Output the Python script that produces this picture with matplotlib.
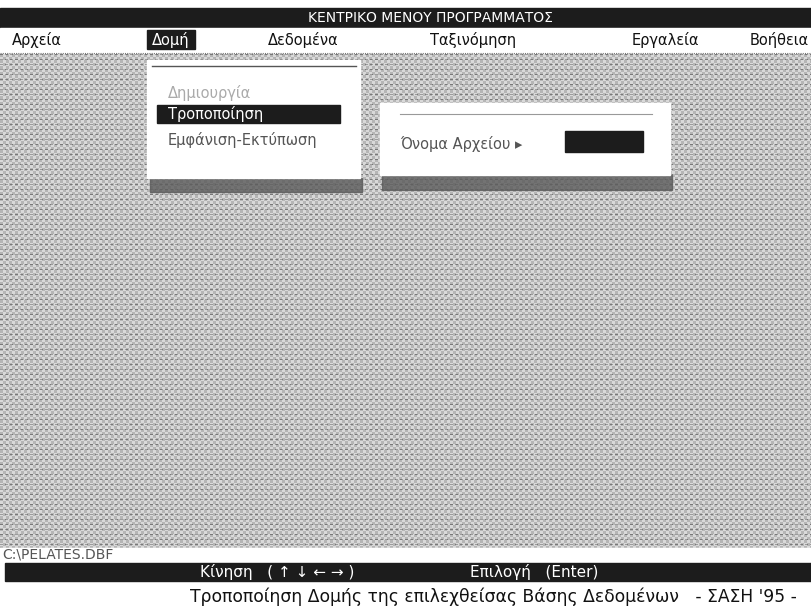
import numpy as np
import matplotlib.pyplot as plt
from matplotlib.patches import Rectangle

# κείμενα της οθόνης
title = "ΚΕΝΤΡΙΚΟ ΜΕΝΟΥ ΠΡΟΓΡΑΜΜΑΤΟΣ"
menu_labels = ["Αρχεία", "Δομή", "Δεδομένα", "Ταξινόμηση", "Εργαλεία", "Βοήθεια"]
submenu_labels = ["Δημιουργία", "Τροποποίηση", "Εμφάνιση-Εκτύπωση"]
prompt_label = "Όνομα Αρχείου ▸"
path_label = "C:\\PELATES.DBF"
keys_labels = ["Κίνηση   ( ↑ ↓ ← → )", "Επιλογή   (Enter)"]
status_label = "Τροποποίηση Δομής της επιλεχθείσας Βάσης Δεδομένων   - ΣΑΣΗ '95 -"

# θέσεις (pixels)
menu_x = [12, 152, 268, 430, 632, 750]
sub_y = [93, 114, 140]
keys_x = [200, 470]

W, H = 811, 613
font = ["DejaVu Sans"]

fig = plt.figure(figsize=(W / 100, H / 100), dpi=100)
ax = fig.add_axes([0, 0, 1, 1])
ax.set_xlim(0, W)
ax.set_ylim(H, 0)
ax.axis("off")
fig.patch.set_facecolor("white")

# γκρι φόντο με υφή
yy, xx = np.mgrid[0:494, 0:811]
tex = (0.71 + 0.14 * ((xx // 3 + yy // 3) % 2)
       - 0.24 * ((yy % 5 == 0) & (xx % 5 < 3)))
ax.imshow(tex, cmap="gray", vmin=0, vmax=1, extent=(0, W, 548, 54),
          interpolation="antialiased", zorder=0)

# γραμμή τίτλου
ax.add_patch(Rectangle((0, 8), W, 20, color="#1c1c1c", zorder=1))
ax.text(430, 18.5, title, color="white", ha="center", va="center",
        fontsize=10, family=font, zorder=2)

# μπάρα μενού
ax.add_patch(Rectangle((0, 28), W, 24, color="white", zorder=1))
ax.add_patch(Rectangle((147, 30), 48, 19, color="#1c1c1c", zorder=2))
for i, (lab, x) in enumerate(zip(menu_labels, menu_x)):
    ax.text(x, 40, lab, color="white" if i == 1 else "#111111", ha="left",
            va="center", fontsize=10.5, family=font, zorder=3)
ax.plot([0, W], [53, 53], color="#777777", lw=0.8, ls=(0, (1, 1)), zorder=2)

# αναδυόμενο μενού Δομή
ax.add_patch(Rectangle((150, 178), 212, 14, color="#5a5a5a", alpha=0.8, zorder=1))
ax.add_patch(Rectangle((147, 60), 213, 118, color="white", zorder=2))
ax.plot([152, 356], [66, 66], color="#555555", lw=1, zorder=3)
ax.add_patch(Rectangle((157, 105), 183, 18, color="#1c1c1c", zorder=3))
for i, (lab, y) in enumerate(zip(submenu_labels, sub_y)):
    col = "white" if i == 1 else ("#aaaaaa" if i == 0 else "#555555")
    ax.text(168, y, lab, color=col, ha="left", va="center", fontsize=10.5,
            family=font, zorder=4)

# παράθυρο ονόματος αρχείου
ax.add_patch(Rectangle((382, 175), 290, 15, color="#5a5a5a", alpha=0.8, zorder=1))
ax.add_patch(Rectangle((380, 103), 290, 72, color="white", zorder=2))
ax.plot([400, 652], [114, 114], color="#999999", lw=0.8, zorder=3)
ax.text(400, 144, prompt_label, color="#555555", ha="left", va="center",
        fontsize=10.5, family=font, zorder=4)
ax.add_patch(Rectangle((565, 131), 78, 21, color="#1c1c1c", zorder=3))

# γραμμή διαδρομής
ax.add_patch(Rectangle((0, 548), W, 15, color="white", zorder=1))
ax.text(2, 555, path_label, color="#555555", ha="left", va="center",
        fontsize=10, family=font, zorder=2)

# μπάρα πλήκτρων
ax.add_patch(Rectangle((5, 563), W - 5, 18, color="#1c1c1c", zorder=1))
for lab, x in zip(keys_labels, keys_x):
    ax.text(x, 572, lab, color="white", ha="left", va="center", fontsize=11,
            family=font, zorder=2)

# γραμμή κατάστασης
ax.text(190, 597, status_label, color="#111111", ha="left", va="center",
        fontsize=12.3, family=font, zorder=2)

fig.savefig("out.png", dpi=100)
plt.close(fig)
